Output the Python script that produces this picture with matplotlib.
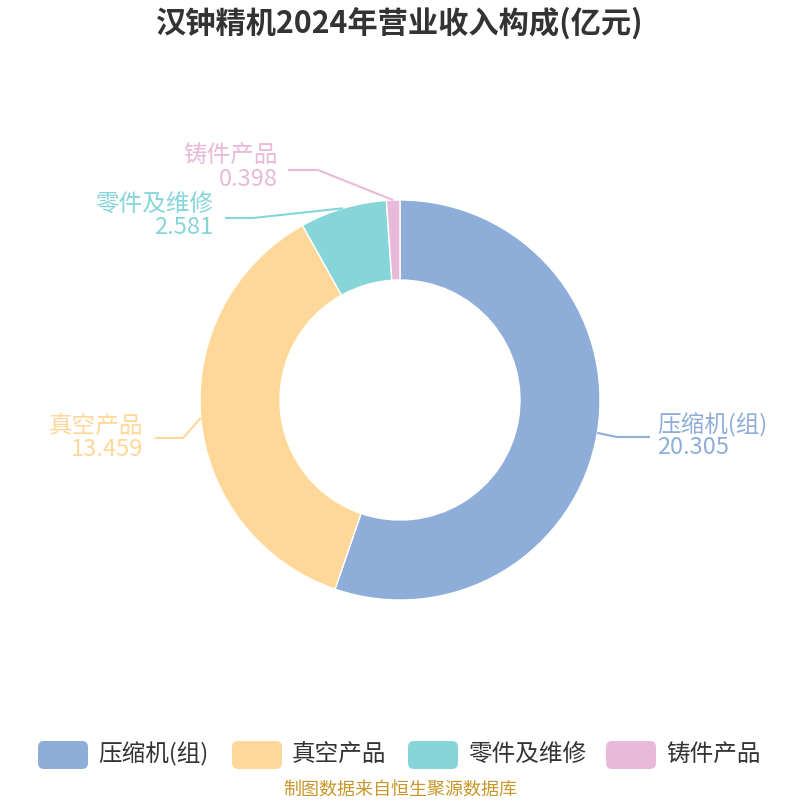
import numpy as np
import matplotlib
matplotlib.use("Agg")
import matplotlib.pyplot as plt
from matplotlib.patches import FancyBboxPatch

plt.rcParams['font.family'] = ['Noto Sans CJK SC', 'DejaVu Sans']

title = "汉钟精机2024年营业收入构成(亿元)"
categories = ["压缩机(组)", "真空产品", "零件及维修", "铸件产品"]
values = [20.305, 13.459, 2.581, 0.398]
value_labels = ["20.305", "13.459", "2.581", "0.398"]
colors = ["#8FADD9", "#FFD899", "#86D5D8", "#E8B9D9"]
source = "制图数据来自恒生聚源数据库"

W = H = 800
fig = plt.figure(figsize=(8, 8), dpi=100)
ax = fig.add_axes([0, 0, 1, 1])

def Y(py):
    return H - py

cx, cy, R = 400, 400, 200
wedges, _ = ax.pie(values, colors=colors, startangle=90, counterclock=False,
                   radius=R, center=(cx, Y(cy)),
                   wedgeprops=dict(width=80, edgecolor='white', linewidth=1))
ax.set_xlim(0, W)
ax.set_ylim(0, H)
ax.set_aspect('equal')
ax.axis('off')

# label layout: (elbow px, end px, text x px, text align, name y px, value y px)
layout = [
    ((617, 437), (650, 437), 657, 'left', 425, 448),
    ((183, 438), (155, 438), 143, 'right', 426, 449),
    ((253, 218), (225, 218), 213, 'right', 204, 227),
    ((318, 170), (288, 170), 278, 'right', 155, 179),
]

for w, lay, name, val, col in zip(wedges, layout, categories, value_labels, colors):
    ang = np.deg2rad((w.theta1 + w.theta2) / 2)
    x0 = cx + R * np.cos(ang)
    y0 = Y(cy) + R * np.sin(ang)
    (ex, ey), (tx, ty), lx, ha, ny, vy = lay
    ax.plot([x0, ex, tx], [y0, Y(ey), Y(ty)], color=col, lw=1.5,
            solid_capstyle='butt')
    ax.text(lx, Y(ny), name, color=col, fontsize=17, ha=ha, va='center')
    ax.text(lx, Y(vy), val, color=col, fontsize=17, ha=ha, va='center')

ax.text(400, Y(23), title, fontsize=21.8, fontweight='bold', color='#333333',
        ha='center', va='center')

# legend
leg_x = [38, 232, 408, 606]
for x, name, col in zip(leg_x, categories, colors):
    ax.add_patch(FancyBboxPatch((x, Y(769)), 50, 28,
                                boxstyle="round,pad=0,rounding_size=6",
                                fc=col, ec='none'))
    ax.text(x + 60, Y(754), name, fontsize=17, color='#333333',
            ha='left', va='center')

ax.text(400, Y(790), source, fontsize=13, color='#C8962A', ha='center', va='center')

fig.savefig("out.png", dpi=100, facecolor='white')
